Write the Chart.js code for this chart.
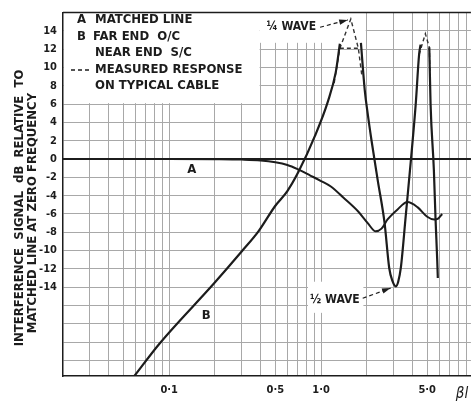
<!DOCTYPE html>
<html>
<head>
<meta charset="utf-8">
<script src="https://cdn.jsdelivr.net/npm/chart.js@4.4.1/dist/chart.umd.min.js"></script>
<style>
  html, body { margin: 0; padding: 0; background: #fff; }
  #wrap { width: 474px; height: 403px; position: relative; }
</style>
</head>
<body>
<div id="wrap"><canvas id="cableChart"></canvas></div>
<script>
// curve A - matched line
const matchedX  = [0.02, 0.1, 0.2, 0.3, 0.4, 0.5, 0.6, 0.7, 0.85, 1.0, 1.16, 1.4, 1.75, 2.03, 2.29, 2.5, 2.74, 3.19, 3.7, 4.31, 5.0, 5.56, 5.9, 6.27];
const matchedDb = [0, 0, -0.02, -0.06, -0.15, -0.35, -0.65, -1.1, -1.8, -2.4, -3.0, -4.2, -5.7, -7.0, -7.9, -7.6, -6.6, -5.5, -4.7, -5.25, -6.3, -6.6, -6.5, -6.0];

// curve B - far end o/c, near end s/c (null = break at the peaks)
const farEndX  = [0.059, 0.086, 0.197, 0.3, 0.387, 0.5, 0.6, 0.71, 0.91, 1.11, 1.25, 1.33, 1.57, 1.83, 1.94, 2.03, 2.15, 2.36, 2.62, 2.81, 2.95, 3.11, 3.22, 3.35, 3.61, 3.89, 4.2, 4.42, 4.52, 4.86, 5.16, 5.26, 5.53, 5.67, 5.82, 5.87];
const farEndDb = [-23.7, -20.2, -13.6, -10.1, -7.9, -5.1, -3.5, -1.4, 2.5, 6.3, 9.5, 12.6, null, 12.7, 7.5, 4.9, 2.0, -2.3, -7.0, -11.9, -13.3, -13.9, -13.4, -11.9, -6.2, -0.4, 6.0, 11.4, 12.5, null, 12.2, 6.0, -1.2, -6.5, -11.1, -13.0];

// measured response on typical cable (dashed)
const measuredX  = [1.22, 1.33, 1.57, 1.76, 1.86, 1.8, 1.33, 1.76, 4.6, 4.42, 4.86, 5.16, 5.22];
const measuredDb = [8.3, 12.1, 15.3, 12.1, 9.0, null, 12.1, 12.1, null, 11.4, 13.7, 12.2, 9.0];

// axes
const xGridValues = [0.03, 0.04, 0.05, 0.06, 0.07, 0.08, 0.09, 0.1, 0.2, 0.3, 0.4, 0.5, 0.6, 0.7, 0.8, 0.9, 1, 2, 3, 4, 5, 6, 7, 8, 9];
const xLabelValues = [0.1, 0.5, 1, 5];
const xLabelText = ['0·1', '0·5', '1·0', '5·0'];
const yGridValues = [-22, -20, -18, -16, -14, -12, -10, -8, -6, -4, -2, 0, 2, 4, 6, 8, 10, 12, 14];

const ink = '#1c1c1c';
const gridGray = '#a8a8a8';
const cond = "'DejaVu Sans Condensed', 'DejaVu Sans', sans-serif";

function pts(xs, ys) {
  return xs.map((x, i) => ({ x: x, y: ys[i] }));
}

function arrow(ctx, x1, y1, x2, y2) {
  ctx.save();
  ctx.setLineDash([4, 3]);
  ctx.lineWidth = 1.2;
  ctx.beginPath();
  ctx.moveTo(x1, y1);
  ctx.lineTo(x2, y2);
  ctx.stroke();
  ctx.setLineDash([]);
  const ang = Math.atan2(y2 - y1, x2 - x1);
  ctx.beginPath();
  ctx.moveTo(x2, y2);
  ctx.lineTo(x2 - 9 * Math.cos(ang - 0.3), y2 - 9 * Math.sin(ang - 0.3));
  ctx.lineTo(x2 - 9 * Math.cos(ang + 0.3), y2 - 9 * Math.sin(ang + 0.3));
  ctx.closePath();
  ctx.fill();
  ctx.restore();
}

const paper = {
  id: 'paper',
  beforeDatasetsDraw(chart) {
    const { ctx, chartArea: a, scales: { x, y } } = chart;
    ctx.save();
    ctx.fillStyle = '#fff';
    // legend box and label clearings
    ctx.fillRect(a.left + 1, a.top, x.getPixelForValue(0.4) - a.left - 2, y.getPixelForValue(6) - a.top - 1);
    ctx.fillRect(x.getPixelForValue(0.4) - 1, a.top, x.getPixelForValue(2) - x.getPixelForValue(0.4), y.getPixelForValue(12.7) - a.top);
    ctx.fillRect(x.getPixelForValue(0.82), y.getPixelForValue(-13.4), x.getPixelForValue(1.9) - x.getPixelForValue(0.82), y.getPixelForValue(-16.8) - y.getPixelForValue(-13.4));
    // top frame
    ctx.strokeStyle = ink;
    ctx.lineWidth = 1.5;
    ctx.beginPath();
    ctx.moveTo(a.left, a.top);
    ctx.lineTo(a.right, a.top);
    ctx.stroke();
    ctx.restore();
  },
  afterDatasetsDraw(chart) {
    const { ctx, scales: { x, y } } = chart;
    ctx.save();
    ctx.fillStyle = ink;
    ctx.strokeStyle = ink;
    ctx.textBaseline = 'middle';
    ctx.font = 'bold 13px ' + cond;

    // key
    ctx.fillText('A', 77, 20);
    ctx.fillText('MATCHED LINE', 95, 20);
    ctx.fillText('B', 77, 37);
    ctx.fillText('FAR END  O/C', 93, 37);
    ctx.fillText('NEAR END  S/C', 95, 53);
    ctx.fillText('MEASURED RESPONSE', 95, 70);
    ctx.fillText('ON TYPICAL CABLE', 95, 86);
    ctx.save();
    ctx.setLineDash([4, 3]);
    ctx.lineWidth = 1.5;
    ctx.beginPath();
    ctx.moveTo(71, 70);
    ctx.lineTo(91, 70);
    ctx.stroke();
    ctx.restore();

    // curve labels
    ctx.textAlign = 'center';
    ctx.fillText('A', x.getPixelForValue(0.141), y.getPixelForValue(-1.2));
    ctx.fillText('B', x.getPixelForValue(0.175), y.getPixelForValue(-17.1));

    // wave annotations
    ctx.textAlign = 'left';
    ctx.font = 'bold 12px ' + cond;
    ctx.fillText('¼ WAVE', x.getPixelForValue(0.437), y.getPixelForValue(14.4));
    ctx.fillText('½ WAVE', x.getPixelForValue(0.847), y.getPixelForValue(-15.4));
    arrow(ctx, x.getPixelForValue(0.985), y.getPixelForValue(14.4), x.getPixelForValue(1.5), y.getPixelForValue(15.2));
    arrow(ctx, x.getPixelForValue(1.88), y.getPixelForValue(-15.2), x.getPixelForValue(2.87), y.getPixelForValue(-14.1));

    // y title
    ctx.font = 'bold 13px ' + cond;
    ctx.textAlign = 'center';
    ctx.save();
    ctx.translate(20, 208);
    ctx.rotate(-Math.PI / 2);
    ctx.fillText('INTERFERENCE  SIGNAL  dB  RELATIVE  TO', 0, 0);
    ctx.restore();
    ctx.save();
    ctx.translate(33, 213);
    ctx.rotate(-Math.PI / 2);
    ctx.fillText('MATCHED LINE AT ZERO FREQUENCY', 0, 0);
    ctx.restore();

    // x title
    ctx.font = 'italic 15px ' + cond;
    ctx.fillText('βl', 462, 394);
    ctx.restore();
  }
};

new Chart(document.getElementById('cableChart').getContext('2d'), {
  type: 'line',
  data: {
    datasets: [
      {
        label: 'A',
        data: pts(matchedX, matchedDb),
        borderColor: ink,
        borderWidth: 2,
        pointRadius: 0,
        cubicInterpolationMode: 'monotone'
      },
      {
        label: 'B',
        data: pts(farEndX, farEndDb),
        borderColor: ink,
        borderWidth: 2.2,
        pointRadius: 0,
        cubicInterpolationMode: 'monotone'
      },
      {
        label: 'Measured',
        data: pts(measuredX, measuredDb),
        borderColor: '#333',
        borderWidth: 1.4,
        borderDash: [4, 3],
        pointRadius: 0,
        tension: 0
      }
    ]
  },
  options: {
    responsive: true,
    maintainAspectRatio: false,
    animation: false,
    layout: { padding: { top: 8, right: 0, left: 0, bottom: 0 } },
    plugins: {
      legend: { display: false },
      tooltip: { enabled: false }
    },
    scales: {
      x: {
        type: 'logarithmic',
        min: 0.02,
        max: 9.7,
        afterBuildTicks: function (scale) {
          scale.ticks = xGridValues.map(v => ({ value: v }));
        },
        afterFit: function (scale) { scale.height = 27; },
        border: { color: ink, width: 1.5 },
        grid: { color: gridGray, lineWidth: 1, drawTicks: false },
        ticks: {
          autoSkip: false,
          maxRotation: 0,
          padding: 8,
          color: ink,
          font: { family: cond, size: 11, weight: 'bold' },
          callback: function (value) {
            const i = xLabelValues.findIndex(v => Math.abs(v - value) < 1e-9);
            return i >= 0 ? xLabelText[i] : '';
          }
        }
      },
      y: {
        min: -23.7,
        max: 16,
        afterBuildTicks: function (scale) {
          scale.ticks = yGridValues.map(v => ({ value: v }));
        },
        afterFit: function (scale) { scale.width = 63; },
        border: { color: ink, width: 1.5 },
        grid: {
          drawTicks: false,
          color: ctx => (ctx.tick && ctx.tick.value === 0 ? ink : gridGray),
          lineWidth: ctx => (ctx.tick && ctx.tick.value === 0 ? 2 : 1)
        },
        ticks: {
          padding: 6,
          color: ink,
          font: { family: cond, size: 11, weight: 'bold' },
          callback: function (value) {
            return value < -14 ? '' : String(value);
          }
        }
      }
    }
  },
  plugins: [paper]
});
</script>
</body>
</html>
